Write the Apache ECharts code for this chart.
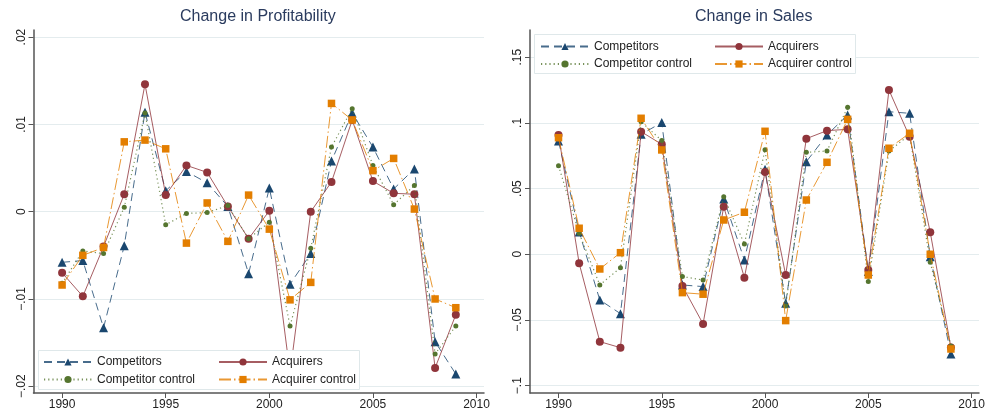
<!DOCTYPE html>
<html>
<head>
<meta charset="utf-8">
<script src="https://cdn.jsdelivr.net/npm/echarts@6/dist/echarts.min.js"></script>
<style>html,body{margin:0;padding:0;background:#fff}#c{width:990px;height:418px}</style>
</head>
<body>
<div id="c"></div>
<script>
// ---------- data ----------
const years = [1990,1991,1992,1993,1994,1995,1996,1997,1998,1999,2000,2001,2002,2003,2004,2005,2006,2007,2008,2009];
const seriesNames = ['Competitors','Acquirers','Competitor control','Acquirer control'];
const titles = ['Change in Profitability','Change in Sales'];
const xTicks = [1990,1995,2000,2005,2010];
const yTicksProf = [-0.02,-0.01,0,0.01,0.02];
const yTicksSales = [-0.1,-0.05,0,0.05,0.1,0.15];

// Change in Profitability
const compProf    = [-0.0058,-0.0056,-0.0133,-0.0039,0.0114,0.0024,0.0046,0.0033,0.0006,-0.0071,0.0027,-0.0083,-0.0048,0.0058,0.0113,0.0074,0.0026,0.0049,-0.0149,-0.0186];
const acqProf     = [-0.0070,-0.0097,-0.0040,0.0020,0.0146,0.0019,0.0053,0.0045,0.0006,-0.0031,0.0001,-0.0185,0.0000,0.0034,0.0105,0.0035,0.0021,0.0020,-0.0179,-0.0118];
const compCtrlProf= [-0.0082,-0.0045,-0.0048,0.0005,0.0113,-0.0015,-0.0002,-0.0001,0.0007,-0.0031,-0.0012,-0.0131,-0.0042,0.0074,0.0118,0.0053,0.0008,0.0030,-0.0163,-0.0131];
const acqCtrlProf = [-0.0084,-0.0050,-0.0041,0.0080,0.0082,0.0072,-0.0036,0.0010,-0.0034,0.0019,-0.0020,-0.0101,-0.0081,0.0124,0.0105,0.0047,0.0061,0.0003,-0.0100,-0.0110];

// Change in Sales
const compSales    = [0.0862,0.0170,-0.0348,-0.0452,0.0913,0.1002,-0.0234,-0.0246,0.0421,-0.0043,0.0647,-0.0373,0.0705,0.0908,0.1060,-0.0132,0.1085,0.1073,-0.0018,-0.0759];
const acqSales     = [0.0908,-0.0068,-0.0665,-0.0711,0.0933,0.0837,-0.0241,-0.0530,0.0362,-0.0178,0.0626,-0.0158,0.0880,0.0941,0.0951,-0.0120,0.1250,0.0895,0.0167,-0.0710];
const compCtrlSales= [0.0674,0.0160,-0.0234,-0.0102,0.1009,0.0865,-0.0170,-0.0196,0.0438,0.0078,0.0796,-0.0393,0.0776,0.0786,0.1119,-0.0208,0.0786,0.0910,-0.0061,-0.0698];
const acqCtrlSales = [0.0887,0.0198,-0.0112,0.0012,0.1035,0.0794,-0.0292,-0.0304,0.0261,0.0320,0.0936,-0.0505,0.0413,0.0700,0.1027,-0.0158,0.0807,0.0921,0.0000,-0.0721];

// ---------- styles ----------
const COLORS = ['#1a476f','#90353b','#55752f','#e37e00'];
const SYMBOLS = ['triangle','circle','circle','rect'];
const SYMSIZE = [9,8,5,7.5];
const DASH = [[8,5],'solid',[1.2,3],[12,3,1.5,3]];
const GRID_COLOR = '#e4ecee';
const AXIS_COLOR = '#555';
const FONT = 'Liberation Sans, Arial, sans-serif';

function fmt(v){
  if (v === 0) return '0';
  let s = String(Math.round(v*1000)/1000);
  s = s.replace('0.', '.');
  return s.replace('-', '\u2212');
}

function zip(vals){ return years.map((y,i)=>[y, vals[i]]); }

function xAxis(gi){
  return {
    type:'value', gridIndex:gi, min:1988.62, max:2010.36,
    axisLine:{show:true, onZero:false, lineStyle:{color:AXIS_COLOR, width:1.5}},
    axisTick:{show:true, length:5, customValues:xTicks, lineStyle:{color:AXIS_COLOR, width:1}},
    axisLabel:{customValues:xTicks, margin:6, color:'#222', fontSize:12, fontFamily:FONT, formatter:v=>String(v)},
    splitLine:{show:false}
  };
}
function yAxis(gi, min, max, ticks){
  return {
    type:'value', gridIndex:gi, min:min, max:max,
    axisLine:{show:true, onZero:false, lineStyle:{color:AXIS_COLOR, width:1.5}},
    axisTick:{show:true, length:5, customValues:ticks, lineStyle:{color:AXIS_COLOR, width:1}},
    axisLabel:{customValues:ticks, rotate:90, margin:6, color:'#222', fontSize:12, fontFamily:FONT, formatter:fmt},
    splitLine:{show:true, lineStyle:{color:GRID_COLOR, width:1}}
  };
}

const panels = [
  [compProf, acqProf, compCtrlProf, acqCtrlProf],
  [compSales, acqSales, compCtrlSales, acqCtrlSales]
];
const series = [];
panels.forEach((p, gi) => {
  p.forEach((vals, si) => {
    series.push({
      type:'line', name:seriesNames[si], xAxisIndex:gi, yAxisIndex:gi,
      data:zip(vals), symbol:SYMBOLS[si], symbolSize:SYMSIZE[si],
      itemStyle:{color:COLORS[si], opacity:1},
      lineStyle:{color:COLORS[si], width:si===2?1.2:1, type:DASH[si], opacity:0.8},
      animation:false, z:2+si*0.01
    });
  });
});

function legend(left, top, names){
  return {
    orient:'vertical', left:left, top:top, data:names,
    itemWidth:48, itemHeight:9, itemGap:5.5, padding:0, z:6,
    textStyle:{color:'#222', fontSize:12, fontFamily:FONT},
    selectedMode:false
  };
}

const option = {
  backgroundColor:'#fff',
  animation:false,
  title:[
    {text:titles[0], left:180, top:9, padding:0, textStyle:{color:'#2a3b5e', fontSize:16, fontWeight:'normal', fontFamily:FONT}},
    {text:titles[1], left:695, top:9, padding:0, textStyle:{color:'#2a3b5e', fontSize:16, fontWeight:'normal', fontFamily:FONT}}
  ],
  grid:[
    {left:33.5, right:506, top:30, bottom:25},
    {left:530, right:11, top:30, bottom:25}
  ],
  xAxis:[xAxis(0), xAxis(1)],
  yAxis:[yAxis(0,-0.02077,0.02081,yTicksProf), yAxis(1,-0.1056,0.1707,yTicksSales)],
  legend:[
    legend(43, 356, [seriesNames[0], seriesNames[2]]),
    legend(218, 356, [seriesNames[1], seriesNames[3]]),
    legend(540, 40.5, [seriesNames[0], seriesNames[2]]),
    legend(714, 40.5, [seriesNames[1], seriesNames[3]])
  ],
  graphic:[
    {type:'rect', z:5, shape:{x:38.5, y:350.5, width:321, height:39}, style:{fill:'#fff', stroke:'#dfe8ea', lineWidth:1}},
    {type:'rect', z:5, shape:{x:534.5, y:34.5, width:321, height:39}, style:{fill:'#fff', stroke:'#dfe8ea', lineWidth:1}}
  ],
  series:series
};

const chart = echarts.init(document.getElementById('c'), null, {renderer:'canvas'});
chart.setOption(option);
</script>
</body>
</html>
